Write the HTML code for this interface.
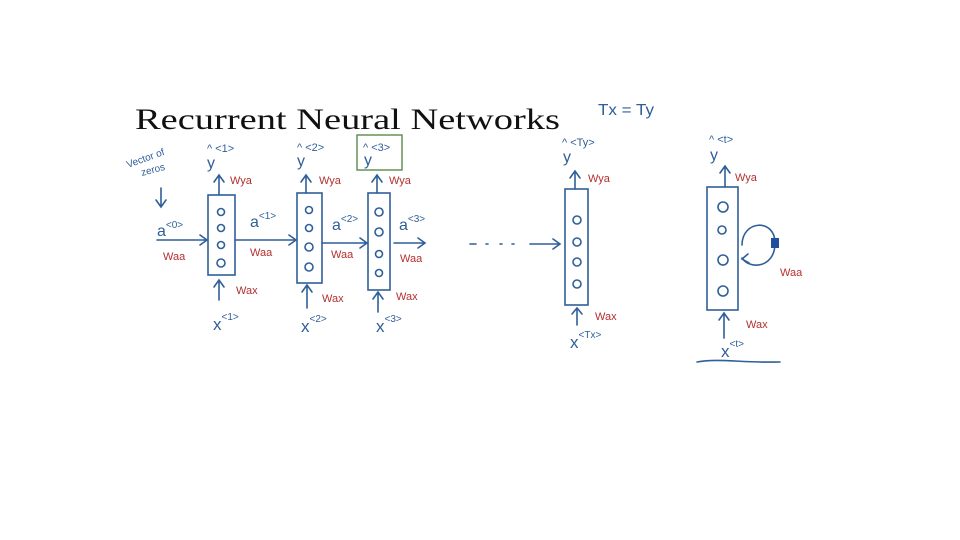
<!DOCTYPE html>
<html><head><meta charset="utf-8"><style>
body{margin:0;background:#fff}
svg{display:block}
.b{fill:none;stroke:#2f5f9a;stroke-width:1.6;stroke-linecap:round}
.t{font-family:"Liberation Sans",sans-serif;fill:#2f5f9a}
.r{font-family:"Liberation Sans",sans-serif;fill:#b3302f;font-size:11px}
</style></head><body>
<svg width="960" height="540" viewBox="0 0 960 540">
<text x="135" y="129" font-family="Liberation Serif,serif" font-size="30" fill="#111" textLength="425" lengthAdjust="spacingAndGlyphs">Recurrent Neural Networks</text>
<text class="t" x="598" y="115" font-size="16" textLength="56" lengthAdjust="spacingAndGlyphs">Tx = Ty</text>
<!-- vector of zeros -->
<text class="t" x="128" y="168" font-size="10" transform="rotate(-20 128 168)">Vector of</text>
<text class="t" x="142" y="176" font-size="10" transform="rotate(-15 142 176)">zeros</text>
<path class="b" d="M161 188 L161 206 M156 200 L161 207 L166 200"/>
<text class="t" x="157" y="236" font-size="16">a<tspan font-size="10" dy="-8">&lt;0&gt;</tspan></text>
<text class="r" x="163" y="260">Waa</text>
<path class="b" d="M157 240 L207 240 M200 235 L207 240 L200 245"/>
<!-- box 1 -->
<rect class="b" x="208" y="195" width="27" height="80"/>
<g class="b"><circle cx="221" cy="212" r="3.5"/><circle cx="221" cy="228" r="3.5"/><circle cx="221" cy="245" r="3.5"/><circle cx="221" cy="263" r="4"/></g>
<path class="b" d="M219 195 L219 176 M214 182 L219 175 L224 182"/>
<text class="r" x="230" y="184">Wya</text>
<text class="t" x="207" y="168" font-size="16">y</text><text class="t" x="207" y="152" font-size="11">^ &lt;1&gt;</text>
<path class="b" d="M219 300 L219 280 M214 287 L219 280 L224 287"/>
<text class="r" x="236" y="294">Wax</text>
<text class="t" x="213" y="330" font-size="17">x<tspan font-size="10" dy="-10">&lt;1&gt;</tspan></text>
<path class="b" d="M235 240 L296 240 M289 235 L296 240 L289 245"/>
<text class="t" x="250" y="227" font-size="16">a<tspan font-size="10" dy="-8">&lt;1&gt;</tspan></text>
<text class="r" x="250" y="256">Waa</text>
<!-- box 2 -->
<rect class="b" x="297" y="193" width="25" height="90"/>
<g class="b"><circle cx="309" cy="210" r="3.5"/><circle cx="309" cy="228" r="3.5"/><circle cx="309" cy="247" r="4"/><circle cx="309" cy="267" r="4"/></g>
<path class="b" d="M306 193 L306 176 M301 182 L306 175 L311 182"/>
<text class="r" x="319" y="184">Wya</text>
<text class="t" x="297" y="166" font-size="16">y</text><text class="t" x="297" y="151" font-size="11">^ &lt;2&gt;</text>
<path class="b" d="M307 308 L307 285 M302 292 L307 285 L312 292"/>
<text class="r" x="322" y="302">Wax</text>
<text class="t" x="301" y="332" font-size="17">x<tspan font-size="10" dy="-10">&lt;2&gt;</tspan></text>
<path class="b" d="M322 243 L367 243 M360 238 L367 243 L360 248"/>
<text class="t" x="332" y="230" font-size="16">a<tspan font-size="10" dy="-8">&lt;2&gt;</tspan></text>
<text class="r" x="331" y="258">Waa</text>
<!-- box 3 -->
<rect x="357" y="135" width="45" height="35" fill="none" stroke="#5a8a4a" stroke-width="1.4"/>
<text class="t" x="364" y="165" font-size="16">y</text><text class="t" x="363" y="151" font-size="11">^ &lt;3&gt;</text>
<rect class="b" x="368" y="193" width="22" height="97"/>
<g class="b"><circle cx="379" cy="212" r="4"/><circle cx="379" cy="232" r="4"/><circle cx="379" cy="254" r="3.5"/><circle cx="379" cy="273" r="3.5"/></g>
<path class="b" d="M377 193 L377 176 M372 182 L377 175 L382 182"/>
<text class="r" x="389" y="184">Wya</text>
<path class="b" d="M378 312 L378 292 M373 299 L378 292 L383 299"/>
<text class="r" x="396" y="300">Wax</text>
<text class="t" x="376" y="332" font-size="17">x<tspan font-size="10" dy="-10">&lt;3&gt;</tspan></text>
<path class="b" d="M394 243 L425 243 M418 238 L425 243 L418 248"/>
<text class="t" x="399" y="230" font-size="16">a<tspan font-size="10" dy="-8">&lt;3&gt;</tspan></text>
<text class="r" x="400" y="262">Waa</text>
<!-- dots -->
<path class="b" d="M470 244 L476 244 M486 244 L488 244 M500 244 L502 244 M512 244 L514 244 M530 244 L560 244 M553 239 L560 244 L553 249"/>
<!-- box Ty -->
<rect class="b" x="565" y="189" width="23" height="116"/>
<g class="b"><circle cx="577" cy="220" r="4"/><circle cx="577" cy="242" r="4"/><circle cx="577" cy="262" r="4"/><circle cx="577" cy="284" r="4"/></g>
<path class="b" d="M575 189 L575 172 M570 178 L575 171 L580 178"/>
<text class="r" x="588" y="182">Wya</text>
<text class="t" x="563" y="162" font-size="16">y</text><text class="t" x="562" y="146" font-size="11">^ &lt;Ty&gt;</text>
<path class="b" d="M577 325 L577 308 M572 314 L577 308 L582 314"/>
<text class="r" x="595" y="320">Wax</text>
<text class="t" x="570" y="348" font-size="17">x<tspan font-size="10" dy="-10">&lt;Tx&gt;</tspan></text>
<!-- box t -->
<rect class="b" x="707" y="187" width="31" height="123"/>
<g class="b"><circle cx="723" cy="207" r="5"/><circle cx="722" cy="230" r="4"/><circle cx="723" cy="260" r="5"/><circle cx="723" cy="291" r="5"/></g>
<path class="b" d="M725 187 L725 167 M720 173 L725 166 L730 173"/>
<text class="r" x="735" y="181">Wya</text>
<text class="t" x="710" y="160" font-size="16">y</text><text class="t" x="709" y="143" font-size="11">^ &lt;t&gt;</text>
<path class="b" d="M742 245 C742 220 775 218 775 243 C775 268 750 270 742 258 M748 254 L742 259 L749 263"/>
<rect x="771" y="238" width="8" height="10" fill="#1f4f9f"/>
<text class="r" x="780" y="276">Waa</text>
<path class="b" d="M724 338 L724 313 M719 320 L724 313 L729 320"/>
<text class="r" x="746" y="328">Wax</text>
<text class="t" x="721" y="357" font-size="17">x<tspan font-size="10" dy="-10">&lt;t&gt;</tspan></text>
<path class="b" d="M697 362 C720 358 740 363 780 362"/>
</svg>
</body></html>
